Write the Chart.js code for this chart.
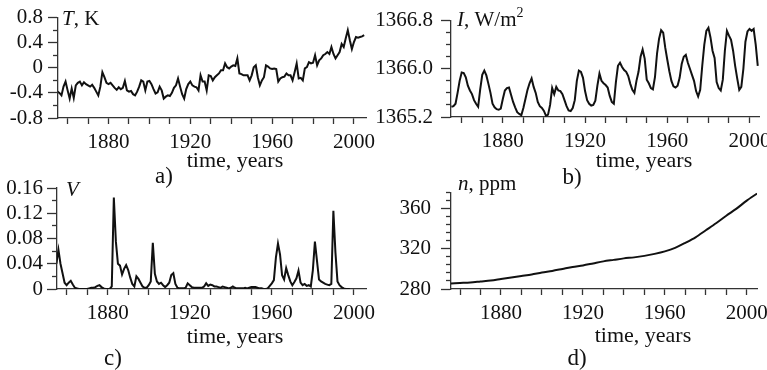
<!DOCTYPE html>
<html>
<head>
<meta charset="utf-8">
<script src="https://cdn.jsdelivr.net/npm/chart.js@4.4.0/dist/chart.umd.min.js"></script>
<style>
  html, body { margin: 0; padding: 0; background: #fff; overflow: hidden; }
  #wrap { position: relative; width: 767px; height: 370px; overflow: hidden; }
  canvas { position: absolute; }
</style>
</head>
<body>
<div id="wrap">
  <canvas id="pa" width="383" height="190" style="left:0;top:0"></canvas>
  <canvas id="pb" width="420" height="190" style="left:360px;top:0"></canvas>
  <canvas id="pc" width="383" height="200" style="left:0;top:170px"></canvas>
  <canvas id="pd" width="420" height="200" style="left:360px;top:170px"></canvas>
</div>
<script>
// year categories
function years(from, to, step) {
  const out = [];
  for (let y = from; y <= to; y += (step || 1)) out.push(y);
  return out;
}

const yearTicks = [1860, 1870, 1880, 1890, 1900, 1910, 1920, 1930, 1940, 1950, 1960, 1970, 1980, 1990, 2000];
const yearLabels = [1880, 1920, 1960, 2000];

// a) temperature anomaly, K
const tempYears = years(1855, 2005);
const tempValues = [
  -0.38, -0.40, -0.44, -0.30, -0.22,
  -0.36, -0.49, -0.33, -0.48, -0.28, -0.24, -0.22, -0.28, -0.23, -0.26,
  -0.28, -0.30, -0.27, -0.32, -0.38, -0.44, -0.30, -0.07, -0.15, -0.24,
  -0.26, -0.24, -0.28, -0.32, -0.35, -0.31, -0.34, -0.32, -0.21, -0.36,
  -0.38, -0.37, -0.42, -0.44, -0.38, -0.30, -0.20, -0.22, -0.36, -0.22,
  -0.21, -0.26, -0.34, -0.41, -0.39, -0.30, -0.36, -0.49, -0.46, -0.44,
  -0.45, -0.40, -0.32, -0.28, -0.17, -0.30, -0.42, -0.49, -0.34, -0.26,
  -0.22, -0.28, -0.30, -0.31, -0.36, -0.12, -0.22, -0.22, -0.36, -0.12,
  -0.13, -0.20, -0.15, -0.12, -0.09, -0.04, -0.04, 0.07, 0.01, -0.01,
  0.02, 0.04, 0.03, 0.15, -0.09, -0.10, -0.12, -0.12, -0.12, -0.20,
  -0.12, 0.01, 0.04, -0.15, -0.28, -0.20, -0.15, 0.04, 0.02, -0.01,
  -0.02, -0.01, -0.02, -0.22, -0.17, -0.15, -0.14, -0.09, -0.12, -0.12,
  -0.20, -0.07, 0.07, -0.17, -0.16, -0.20, -0.01, 0.01, 0.09, 0.07,
  0.08, 0.20, 0.04, 0.12, 0.15, 0.20, 0.22, 0.25, 0.22, 0.33,
  0.22, 0.15, 0.20, 0.25, 0.38, 0.33, 0.47, 0.60, 0.44, 0.30,
  0.41, 0.49, 0.48, 0.49, 0.50, 0.52
];
const tempTicks = [-0.8, -0.6, -0.4, -0.2, 0, 0.2, 0.4, 0.6, 0.8];
const tempLabels = ['-0.8', '-0.4', '0', '0.4', '0.8'];

// b) solar irradiance, W/m2
const irrYears = years(1855, 2004);
const irrValues = [
  1365.37, 1365.38, 1365.42, 1365.60, 1365.80,
  1365.94, 1365.93, 1365.86, 1365.72, 1365.64, 1365.58, 1365.48, 1365.42, 1365.37, 1365.66,
  1365.90, 1365.97, 1365.89, 1365.75, 1365.60, 1365.42, 1365.36, 1365.33, 1365.32, 1365.34,
  1365.50, 1365.64, 1365.68, 1365.69, 1365.57, 1365.45, 1365.36, 1365.28, 1365.25, 1365.23,
  1365.35, 1365.50, 1365.65, 1365.76, 1365.84, 1365.70, 1365.60, 1365.45, 1365.38, 1365.35,
  1365.30, 1365.22, 1365.24, 1365.40, 1365.68, 1365.58, 1365.70, 1365.64, 1365.63, 1365.58,
  1365.48, 1365.38, 1365.31, 1365.30, 1365.35, 1365.48, 1365.80, 1365.97, 1365.95, 1365.85,
  1365.63, 1365.48, 1365.42, 1365.39, 1365.40, 1365.47, 1365.72, 1365.92, 1365.80, 1365.76,
  1365.73, 1365.69, 1365.55, 1365.45, 1365.42, 1365.78, 1366.05, 1366.10, 1366.03, 1365.98,
  1365.95, 1365.88, 1365.75, 1365.65, 1365.60, 1365.80, 1365.95, 1366.20, 1366.32, 1366.17,
  1365.82, 1365.76, 1365.68, 1365.66, 1365.86, 1366.25, 1366.50, 1366.64, 1366.60, 1366.35,
  1366.15, 1365.96, 1365.80, 1365.71, 1365.69, 1365.72, 1365.85, 1366.08, 1366.20, 1366.23,
  1366.10, 1366.00, 1365.90, 1365.80, 1365.63, 1365.54, 1365.65, 1366.05, 1366.40, 1366.63,
  1366.68, 1366.52, 1366.30, 1366.18, 1365.78, 1365.68, 1365.64, 1365.82, 1366.30, 1366.63,
  1366.55, 1366.48, 1366.30, 1366.05, 1365.84, 1365.65, 1365.70, 1366.00, 1366.45, 1366.62,
  1366.66, 1366.63, 1366.66, 1366.40, 1366.05
];
const irrTicks = [1365.2, 1365.4, 1365.6, 1365.8, 1366.0, 1366.2, 1366.4, 1366.6, 1366.8];
const irrLabels = ['1365.2', '1366.0', '1366.8'];

// c) volcanic index
const volYears = years(1855, 1998);
const volValues = [
  0.040, 0.062, 0.040, 0.025, 0.010,
  0.006, 0.010, 0.013, 0.007, 0.002, 0.001, 0, 0, 0, 0,
  0, 0.001, 0.002, 0.002, 0.003, 0.005, 0.006, 0.003, 0.001, 0,
  0, 0, 0.004, 0.145, 0.075, 0.040, 0.037, 0.023, 0.032, 0.038,
  0.030, 0.018, 0.008, 0.004, 0.020, 0.016, 0.010, 0.004, 0.002, 0.002,
  0.006, 0.012, 0.073, 0.024, 0.012, 0.008, 0.010, 0.006, 0.003, 0.006,
  0.010, 0.022, 0.025, 0.008, 0.002, 0.001, 0.001, 0.001, 0.002, 0.009,
  0.006, 0.003, 0.002, 0.002, 0.002, 0.002, 0.002, 0.004, 0.009, 0.005,
  0.007, 0.006, 0.004, 0.004, 0.003, 0.002, 0.004, 0.003, 0.002, 0.001,
  0.002, 0.004, 0.002, 0.001, 0.001, 0.001, 0.001, 0.002, 0.001, 0.002,
  0.003, 0.003, 0.003, 0.002, 0.001, 0.001, 0, 0, 0.001, 0.005,
  0.009, 0.014, 0.050, 0.072, 0.055, 0.022, 0.015, 0.033, 0.022, 0.012,
  0.006, 0.011, 0.017, 0.029, 0.010, 0.006, 0.008, 0.005, 0.006, 0.004,
  0.030, 0.075, 0.045, 0.015, 0.012, 0.010, 0.008, 0.007, 0.006, 0.008,
  0.124, 0.058, 0.012, 0.006, 0.003, 0.001, 0, 0, 0
];
const volTicks = [0, 0.02, 0.04, 0.06, 0.08, 0.10, 0.12, 0.14, 0.16];
const volLabels = ['0', '0.04', '0.08', '0.12', '0.16'];

// d) CO2 concentration, ppm
const co2Years = years(1855, 2005, 5);
const co2Values = [285.5, 286, 286.5, 287.5, 288.5, 290, 291.5, 293, 294.5, 296.5, 298, 300, 302, 303.5, 305.5,
  307.5, 309, 310.5, 311.5, 313, 315, 317.5, 321, 326, 331.5, 338.5, 345.5, 353, 360, 368, 375];
const co2Ticks = [280, 288, 296, 304, 312, 320, 328, 336, 344, 352, 360, 368, 376];
const co2Labels = ['280', '320', '360'];

const INK = '#111';
const AXIS = '#333';
const SERIF = "'Liberation Serif', 'Times New Roman', serif";

// axis captions and panel letters
const panelText = {
  id: 'panelText',
  afterDraw(chart, args, opts) {
    const ctx = chart.ctx;
    ctx.save();
    ctx.fillStyle = INK;
    ctx.textBaseline = 'alphabetic';
    (opts.items || []).forEach(item => {
      const fontOf = p => (p.italic ? 'italic ' : '') + (p.size || item.size) + 'px ' + SERIF;
      const widths = item.parts.map(p => { ctx.font = fontOf(p); return ctx.measureText(p.t).width; });
      let x = item.x;
      if (item.center) x -= widths.reduce((a, b) => a + b, 0) / 2;
      item.parts.forEach((p, i) => {
        ctx.font = fontOf(p);
        ctx.fillText(p.t, x, item.y + (p.rise || 0));
        x += widths[i];
      });
    });
    ctx.restore();
  }
};

function near(list, v) {
  return list.find(s => Math.abs(parseFloat(s) - v) < 1e-6);
}

function makePanel(id, o) {
  const canvas = document.getElementById(id);
  const w = canvas.width, h = canvas.height;
  new Chart(canvas, {
    type: 'line',
    data: {
      datasets: [{
        data: o.years.map((yr, i) => ({ x: yr, y: o.values[i] })),
        borderColor: INK,
        borderWidth: 2,
        pointRadius: 0,
        tension: o.tension || 0,
        fill: false
      }]
    },
    options: {
      responsive: false,
      animation: false,
      events: [],
      layout: { padding: { left: 0, top: o.area.top, right: w - o.area.right, bottom: 0 } },
      plugins: {
        legend: { display: false },
        tooltip: { enabled: false },
        panelText: { items: o.texts }
      },
      scales: {
        x: {
          type: 'linear',
          min: o.xMin,
          max: o.xMax,
          afterBuildTicks: s => { s.ticks = yearTicks.map(v => ({ value: v })); },
          afterFit: s => { s.height = h - o.area.bottom; },
          border: { display: true, color: AXIS, width: 1.3 },
          grid: { display: true, drawOnChartArea: false, drawTicks: true, tickLength: 6, color: AXIS, tickWidth: 1.3 },
          ticks: {
            autoSkip: false,
            maxRotation: 0,
            padding: 6,
            color: INK,
            font: { family: SERIF, size: 21 },
            callback: v => yearLabels.includes(v) ? String(v) : ''
          }
        },
        y: {
          min: o.yTicks[0],
          max: o.yTicks[o.yTicks.length - 1],
          afterBuildTicks: s => { s.ticks = o.yTicks.map(v => ({ value: v })); },
          afterFit: s => { s.width = o.area.left; },
          border: { display: true, color: AXIS, width: 1.3 },
          grid: {
            display: true, drawOnChartArea: false, drawTicks: true, tickLength: 10,
            color: AXIS, tickWidth: 1.3,
            tickBorderDash: c => near(o.yLabels, c.tick.value) ? [] : [5, 5],
            tickBorderDashOffset: c => near(o.yLabels, c.tick.value) ? 0 : 5
          },
          ticks: {
            autoSkip: false,
            padding: o.yPad,
            color: INK,
            font: { family: SERIF, size: 21 },
            callback: v => near(o.yLabels, v) || ''
          }
        }
      }
    },
    plugins: [panelText]
  });
}

const caption = [{ t: 'time, years' }];

makePanel('pa', {
  years: tempYears, values: tempValues, yTicks: tempTicks, yLabels: tempLabels,
  xMin: 1855.3, xMax: 2005.9, yPad: 5,
  area: { left: 58, right: 366, top: 17, bottom: 118 },
  texts: [
    { x: 62, y: 25, size: 21, parts: [{ t: 'T', italic: true }, { t: ', K' }] },
    { x: 235, y: 167, size: 22, center: true, parts: caption },
    { x: 164, y: 183, size: 23, center: true, parts: [{ t: 'a)' }] }
  ]
});

makePanel('pb', {
  years: irrYears, values: irrValues, yTicks: irrTicks, yLabels: irrLabels,
  xMin: 1854.8, xMax: 2004.6, yPad: 8,
  area: { left: 91, right: 399, top: 16, bottom: 117 },
  texts: [
    { x: 97, y: 26, size: 21, parts: [{ t: 'I', italic: true }, { t: ', W/m' }, { t: '2', size: 14, rise: -9 }] },
    { x: 284, y: 167, size: 22, center: true, parts: caption },
    { x: 212, y: 184, size: 23, center: true, parts: [{ t: 'b)' }] }
  ]
});

makePanel('pc', {
  years: volYears, values: volValues, yTicks: volTicks, yLabels: volLabels,
  xMin: 1855.3, xMax: 2005.9, yPad: 4,
  area: { left: 57, right: 366, top: 18, bottom: 119 },
  texts: [
    { x: 66, y: 26, size: 21, parts: [{ t: 'V', italic: true }] },
    { x: 235, y: 173, size: 22, center: true, parts: caption },
    { x: 113, y: 195, size: 23, center: true, parts: [{ t: 'c)' }] }
  ]
});

makePanel('pd', {
  years: co2Years, values: co2Values, yTicks: co2Ticks, yLabels: co2Labels, tension: 0.3,
  xMin: 1855.6, xMax: 2005.0, yPad: 10,
  area: { left: 91, right: 397, top: 17, bottom: 119 },
  texts: [
    { x: 98, y: 20, size: 21, parts: [{ t: 'n', italic: true }, { t: ', ppm' }] },
    { x: 283, y: 172, size: 22, center: true, parts: caption },
    { x: 217, y: 195, size: 23, center: true, parts: [{ t: 'd)' }] }
  ]
});
</script>
</body>
</html>
